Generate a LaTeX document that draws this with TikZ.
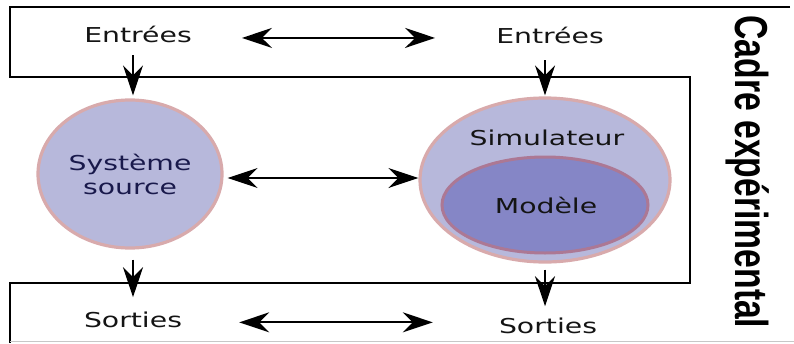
\documentclass[tikz,border=0pt]{standalone}
\usepackage{fontspec}
\setmainfont{DejaVu Sans}
\newfontfamily\cadrefont{Liberation Sans}
\usetikzlibrary{arrows.meta,shapes.geometric}
\definecolor{outerfill}{RGB}{183,184,219}
\definecolor{innerfill}{RGB}{133,134,198}
\definecolor{ringcol}{RGB}{216,170,172}
\definecolor{innerring}{RGB}{172,120,148}
\definecolor{navytxt}{RGB}{25,25,75}
\newcommand\stx[1]{\scalebox{1.38}[1]{#1}}
\begin{document}
\begin{tikzpicture}[x=1pt,y=-1pt,
  lbl/.style={font=\fontsize{20.5}{25}\selectfont, text=black!92, inner sep=0pt, anchor=base},
  arr/.style={line width=1.8pt, -{Stealth[length=30pt,width=20pt,inset=10pt]}},
  darr/.style={line width=1.8pt, {Stealth[length=30pt,width=20pt,inset=10pt]}-{Stealth[length=30pt,width=20pt,inset=10pt]}},
  framepath/.style={line width=1.8pt, draw=black},
  blob/.style={ellipse, inner sep=0pt, line width=3.2pt}
]
\useasboundingbox (0,0) rectangle (794,343);
% frame
\draw[framepath] (790,7) -- (10,7) -- (10,77) -- (690,77) -- (690,283) -- (10,283) -- (10,343);
\draw[black!22, line width=1pt] (10,341.5) -- (794,341.5);
% ellipses
\node[blob, fill=outerfill, draw=ringcol, minimum width=184pt, minimum height=148pt,
      align=center, text=navytxt, font=\fontsize{20.5}{24}\selectfont] (src) at (130,174)
      {\stx{Système}\\\stx{source}};
\node[blob, fill=outerfill, draw=ringcol, minimum width=250pt, minimum height=164pt] (sim) at (545,180) {};
\node[blob, fill=innerfill, draw=innerring, line width=3pt, minimum width=206pt, minimum height=96pt] (mod) at (545,205) {};
% labels
\node[lbl] (entL) at (138,42) {\stx{Entrées}};
\node[lbl] (entR) at (550,43) {\stx{Entrées}};
\node[lbl] (simlbl) at (547,145) {\stx{Simulateur}};
\node[lbl] (modlbl) at (546,213) {\stx{Modèle}};
\node[lbl] (sortL) at (133,327) {\stx{Sorties}};
\node[lbl] (sortR) at (548,333) {\stx{Sorties}};
\node[rotate=-90, inner sep=0pt] (cadre) at (748,172)
  {\scalebox{1}[1.37]{\cadrefont\bfseries\fontsize{33.7}{40}\selectfont Cadre expérimental}};
% connectors
\draw[darr, shorten <=50pt, shorten >=61pt] ([yshift=-4pt]entL.east) -- ([yshift=-4pt]entL.east -| entR.west);
\draw[darr, shorten <=4pt] ([yshift=-4pt]src.east) -- ([yshift=-4pt]src.east -| sim.west);
\draw[darr, shorten <=57pt, shorten >=66pt] ([yshift=-3pt]sortL.east) -- ([yshift=-3pt]sortL.east -| sortR.west);
\draw[arr, shorten <=13pt, shorten >=3pt] ([xshift=3pt]src.north |- entL.south) -- ([xshift=3pt]src.north);
\draw[arr, shorten <=17pt, shorten >=1pt] (sim.north |- entR.south) -- (sim.north);
\draw[arr, shorten <=10pt, shorten >=14pt] ([xshift=3pt]src.south) -- ([xshift=3pt]src.south |- sortL.north);
\draw[arr, shorten <=6pt, shorten >=11pt] (sim.south) -- (sim.south |- sortR.north);
\end{tikzpicture}
\end{document}
